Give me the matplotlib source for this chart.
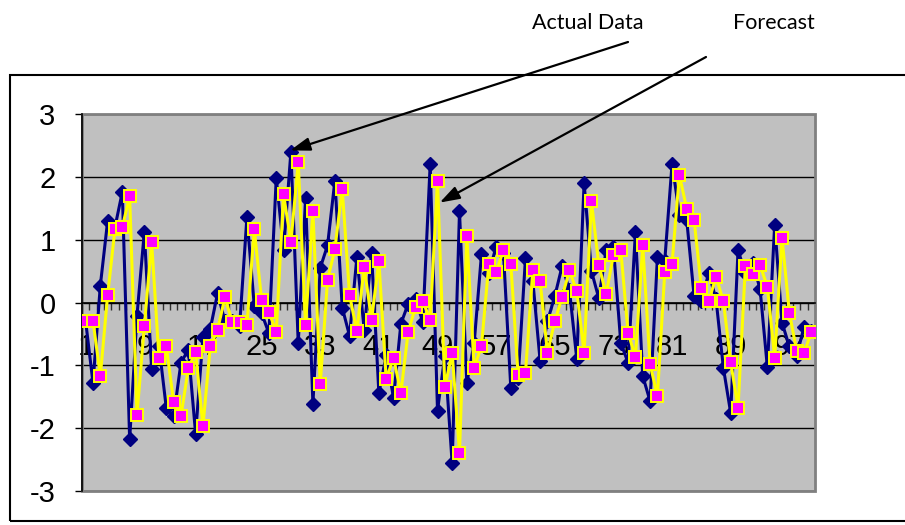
import numpy as np
import matplotlib
matplotlib.use("Agg")
import matplotlib.pyplot as plt
from matplotlib.patches import Rectangle

# values
periods = np.arange(1, 101)
actual = [-0.30, -1.28, 0.27, 1.30, 1.20, 1.76, -2.18, -0.21, 1.12, -1.06,
          -0.69, -1.68, -1.81, -0.96, -0.75, -2.09, -0.55, -0.42, 0.15, -0.30,
          -0.30, -0.38, 1.36, -0.05, -0.17, -0.49, 1.98, 0.84, 2.40, -0.65,
          1.66, -1.61, 0.55, 0.91, 1.94, -0.08, -0.53, 0.72, -0.43, 0.78,
          -1.44, -0.84, -1.52, -0.34, -0.02, 0.05, -0.31, 2.20, -1.72, -0.85,
          -2.56, 1.45, -1.28, -0.65, 0.77, 0.47, 0.89, 0.78, -1.36, -1.20,
          0.71, 0.35, -0.93, -0.30, 0.10, 0.58, 0.20, -0.90, 1.90, 0.50,
          0.07, 0.83, 0.88, -0.64, -0.96, 1.12, -1.17, -1.57, 0.72, 0.66,
          2.21, 1.40, 1.31, 0.11, 0.02, 0.47, 0.05, -1.04, -1.76, 0.83,
          0.47, 0.63, 0.22, -1.03, 1.24, -0.32, -0.70, -0.85, -0.39, -0.45]
forecast = [-0.29, -0.29, -1.17, 0.12, 1.17, 1.20, 1.69, -1.79, -0.38, 0.96,
            -0.88, -0.70, -1.58, -1.81, -1.05, -0.79, -1.97, -0.70, -0.43, 0.08,
            -0.31, -0.31, -0.36, 1.17, 0.04, -0.15, -0.47, 1.72, 0.96, 2.23,
            -0.36, 1.46, -1.30, 0.36, 0.85, 1.81, 0.12, -0.46, 0.57, -0.28,
            0.66, -1.22, -0.88, -1.44, -0.47, -0.07, 0.02, -0.28, 1.94, -1.35,
            -0.80, -2.39, 1.06, -1.04, -0.69, 0.61, 0.48, 0.84, 0.62, -1.16,
            -1.12, 0.51, 0.34, -0.80, -0.30, 0.09, 0.51, 0.18, -0.80, 1.61,
            0.60, 0.13, 0.76, 0.84, -0.48, -0.87, 0.91, -0.98, -1.49, 0.48,
            0.62, 2.03, 1.49, 1.32, 0.23, 0.02, 0.41, 0.02, -0.95, -1.68,
            0.58, 0.46, 0.60, 0.25, -0.88, 1.03, -0.16, -0.77, -0.81, -0.47]
tick_periods = [1, 9, 17, 25, 33, 41, 49, 57, 65, 73, 81, 89, 97]
y_ticks = [-3, -2, -1, 0, 1, 2, 3]

plt.rcParams['axes.unicode_minus'] = False
plt.rcParams['font.family'] = ['Liberation Sans', 'DejaVu Sans']

W, H = 905, 525
fig = plt.figure(figsize=(W / 100, H / 100), dpi=100)
ax = fig.add_axes([82 / W, (H - 491) / H, (815 - 82) / W, (491 - 114) / H])
ax.set_facecolor('#C0C0C0')

ax.plot(periods, actual, color='#000080', lw=2.2, marker='D', ms=7,
        mfc='#000080', mec='#000080', zorder=3)
ax.plot(periods, forecast, color='#FFFF00', lw=2.2, marker='s', ms=8.5,
        mfc='#FF00FF', mec='#FFFF00', mew=1.4, zorder=4)

ax.set_xlim(0.5, 100.5)
ax.set_ylim(-3, 3)
ax.set_yticks(y_ticks)
ax.set_yticklabels([str(v) for v in y_ticks])
ax.set_xticks(tick_periods)
ax.set_xticklabels([str(v) for v in tick_periods])
ax.set_xticks(np.arange(0.5, 101, 1), minor=True)

ax.spines['bottom'].set_position(('data', 0))
ax.spines['top'].set_visible(False)
ax.spines['right'].set_visible(False)
ax.spines['left'].set_linewidth(1.2)
ax.spines['bottom'].set_linewidth(1.2)
ax.tick_params(axis='x', which='major', length=0, pad=22, labelsize=21)
ax.tick_params(axis='x', which='minor', length=5, width=1, direction='out', color='#303030')
ax.tick_params(axis='y', length=5, width=1, labelsize=21, pad=14)
ax.grid(axis='y', color='black', lw=1)
ax.set_axisbelow(True)

# grey plot-area border
ax.add_patch(Rectangle((0, 0), 1, 1, transform=ax.transAxes, fill=False,
                       edgecolor='#808080', lw=2, zorder=1.5, clip_on=False))

# outer chart frame
fig.add_artist(Rectangle((10 / W, 4 / H), 1, (521 - 75) / H, transform=fig.transFigure,
                         fill=False, edgecolor='black', lw=1.5))

# callouts
fig.text(588 / W, 1 - 23 / H, 'Actual Data', ha='center', va='center', fontsize=15.5, family='Lato')
fig.text(774 / W, 1 - 23 / H, 'Forecast', ha='center', va='center', fontsize=15.5, family='Lato')
arrow = dict(arrowstyle='-|>,head_length=0.6,head_width=0.2', color='black', lw=1.6,
             mutation_scale=20, shrinkA=0, shrinkB=0)
ax.annotate('', xy=(28.9, 2.42), xytext=(628, H - 42), textcoords='figure pixels',
            arrowprops=arrow, annotation_clip=False, zorder=6)
ax.annotate('', xy=(49.3, 1.59), xytext=(706, H - 57), textcoords='figure pixels',
            arrowprops=arrow, annotation_clip=False, zorder=6)

fig.savefig('out.png', dpi=100)
